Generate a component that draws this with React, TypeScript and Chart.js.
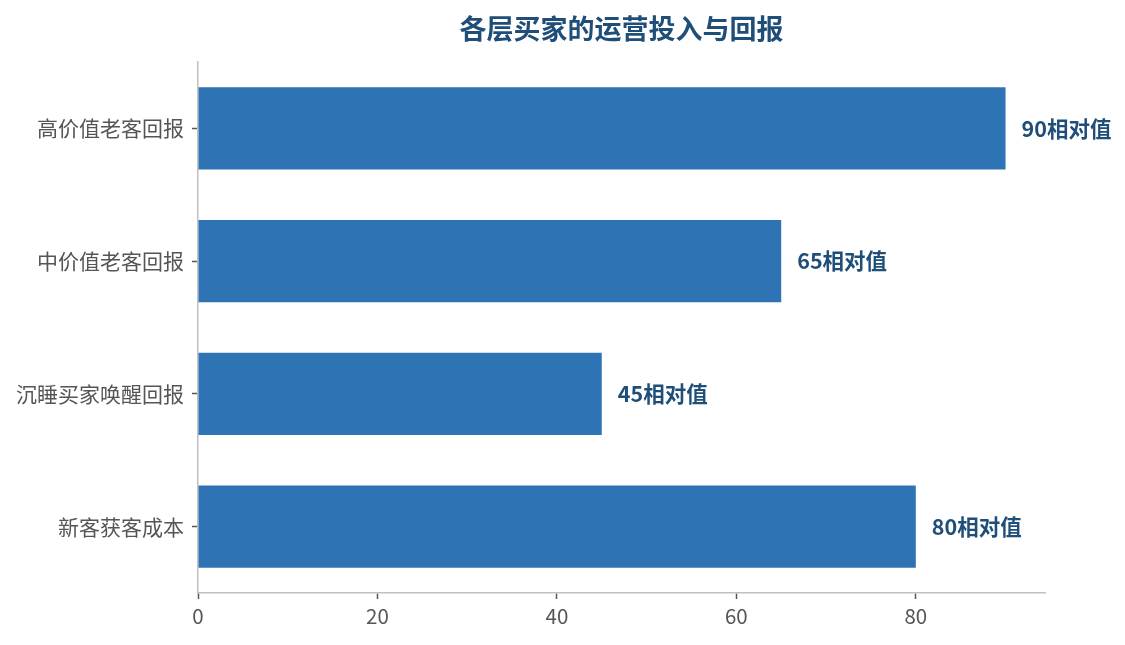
import React, { useEffect, useRef } from 'react';
import Chart from 'chart.js/auto';

const categories = ['高价值老客回报', '中价值老客回报', '沉睡买家唤醒回报', '新客获客成本'];
const values = [90, 65, 45, 80];
const valueSuffix = '相对值';
const xTicks = [0, 20, 40, 60, 80];
const chartTitle = '各层买家的运营投入与回报';

const FONT = '"Noto Sans CJK SC", "Noto Sans", sans-serif';

const App: React.FC = () => {
  const chartRef = useRef<HTMLCanvasElement | null>(null);
  const chartInstance = useRef<Chart | null>(null);

  useEffect(() => {
    document.body.style.margin = '0';
    if (!chartRef.current) return;
    const ctx = chartRef.current.getContext('2d');
    if (!ctx) return;

    // value labels right of each bar + title centred over the plot area
    const barLabels = {
      id: 'barLabels',
      afterDatasetsDraw(chart: any) {
        const c = chart.ctx;
        const meta = chart.getDatasetMeta(0);
        c.save();
        c.font = `bold 21.5px ${FONT}`;
        c.fillStyle = '#1f4e79';
        c.textAlign = 'left';
        c.textBaseline = 'middle';
        meta.data.forEach((bar: any, i: number) => {
          c.fillText(`${values[i]}${valueSuffix}`, bar.x + 16, bar.y);
        });
        const area = chart.chartArea;
        c.font = `bold 27px ${FONT}`;
        c.textAlign = 'center';
        c.fillText(chartTitle, (area.left + area.right) / 2, 29);
        c.restore();
      }
    };

    chartInstance.current = new Chart(ctx, {
      type: 'bar',
      data: {
        labels: categories,
        datasets: [{
          data: values,
          backgroundColor: '#2e74b5',
          borderWidth: 0,
          barPercentage: 0.62,
          categoryPercentage: 1
        }]
      },
      options: {
        indexAxis: 'y',
        responsive: true,
        maintainAspectRatio: false,
        animation: false,
        layout: { padding: { top: 62, right: 80, bottom: 0, left: 0 } },
        scales: {
          x: {
            min: 0,
            max: 94.4,
            afterFit: (scale: any) => { scale.height = 52; },
            afterBuildTicks: (scale: any) => {
              scale.ticks = xTicks.map(v => ({ value: v }));
            },
            border: { display: true, color: '#c0c0c0', width: 1.5 },
            grid: { drawOnChartArea: false, tickLength: 6, tickColor: '#555555', tickWidth: 1.5 },
            ticks: { color: '#555555', font: { family: FONT, size: 20.5 }, padding: 5 }
          },
          y: {
            afterFit: (scale: any) => { scale.width = 198; },
            border: { display: true, color: '#c0c0c0', width: 1.5 },
            grid: { offset: false, drawOnChartArea: false, tickLength: 6, tickColor: '#555555', tickWidth: 1.5 },
            ticks: { color: '#555555', font: { family: FONT, size: 21 }, padding: 8 }
          }
        },
        plugins: {
          legend: { display: false },
          tooltip: { enabled: false },
          title: { display: false }
        }
      },
      plugins: [barLabels]
    });

    return () => {
      if (chartInstance.current) {
        chartInstance.current.destroy();
      }
    };
  }, []);

  return (
    <div style={{ width: 1125, height: 645, position: 'relative', background: '#ffffff' }}>
      <canvas ref={chartRef}></canvas>
    </div>
  );
};

export default App;
